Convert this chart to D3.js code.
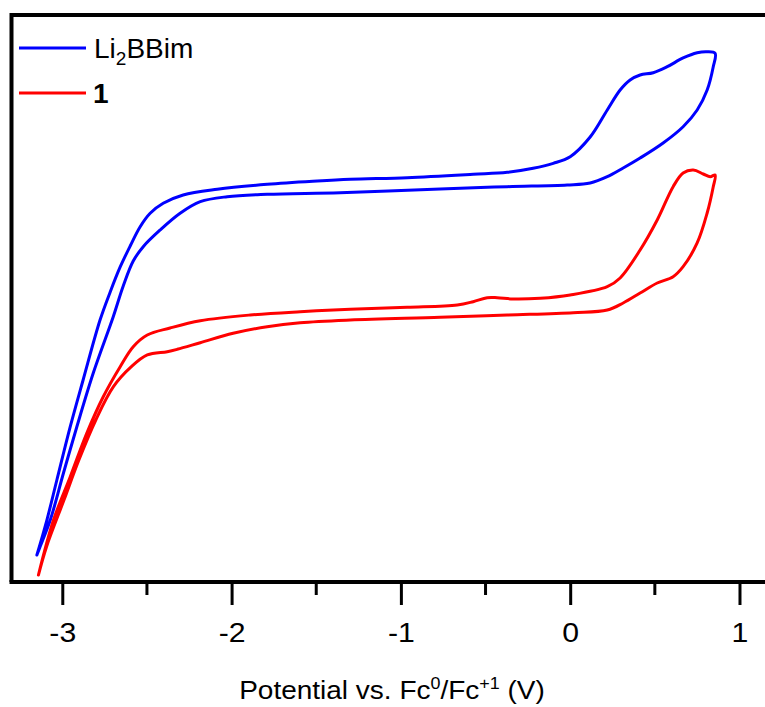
<!DOCTYPE html>
<html>
<head>
<meta charset="utf-8">
<script src="https://cdn.jsdelivr.net/npm/d3@7"></script>
<style>
  html, body { margin: 0; padding: 0; background: #fff; }
  svg { display: block; }
  text { font-family: Arial, "Liberation Sans", Helvetica, sans-serif; fill: #000; }
</style>
</head>
<body>
<svg id="chart" width="765" height="707"></svg>
<script>
// Cyclic voltammograms: potential (V vs. Fc0/Fc+1) and current (arbitrary units)
const seriesNames = ["Li2BBim", "1"];
const seriesColors = ["#0000ff", "#ff0000"];

// Li2BBim: anodic sweep from the cathodic limit, then the return sweep
const blueV = [-3.150, -3.091, -3.032, -2.953, -2.877, -2.777, -2.717, -2.658, -2.599, -2.540,
  -2.481, -2.404, -2.286, -2.085, -1.790, -1.494, -1.299, -0.963, -0.573, -0.372,
  -0.219, -0.100, 0.000, 0.118, 0.219, 0.295, 0.354, 0.413, 0.490, 0.573,
  0.667, 0.750, 0.809, 0.856,
  0.845, 0.809, 0.750, 0.667, 0.549, 0.413, 0.313, 0.219, 0.118, -0.018,
  -0.372, -0.768, -1.359, -1.790, -2.026, -2.185, -2.304, -2.422, -2.522, -2.581,
  -2.640, -2.699, -2.817, -2.914, -2.993, -3.071, -3.131, -3.150];
const blueI = [4.76, 10.93, 17.99, 27.39, 35.63, 46.20, 51.15, 55.56, 59.26, 62.66,
  65.03, 66.79, 68.25, 69.26, 70.14, 70.72, 71.02, 71.31, 71.90, 72.25,
  72.96, 73.84, 75.01, 78.48, 83.25, 86.77, 88.54, 89.42, 89.82, 90.88,
  92.42, 93.35, 93.53, 93.25,
  90.88, 86.77, 83.25, 80.30, 77.43, 74.78, 73.02, 71.48, 70.37, 70.02,
  69.72, 69.31, 68.66, 68.38, 67.95, 67.07, 65.03, 62.08, 59.14, 56.60,
  52.20, 46.79, 36.86, 27.39, 19.22, 10.93, 6.23, 4.76];

// Compound 1
const redV = [-3.141, -3.052, -2.953, -2.855, -2.758, -2.658, -2.581, -2.498, -2.363, -2.185,
  -1.890, -1.595, -1.299, -0.963, -0.667, -0.573, -0.490, -0.431, -0.337, -0.177,
  0.000, 0.219, 0.295, 0.413, 0.514, 0.608, 0.667, 0.727, 0.786, 0.827, 0.856,
  0.845, 0.809, 0.750, 0.667, 0.608, 0.514, 0.413, 0.313, 0.219, 0.018,
  -0.372, -0.768, -1.299, -1.595, -1.790, -1.991, -2.185, -2.321, -2.380, -2.498,
  -2.592, -2.698, -2.802, -2.902, -2.990, -3.093, -3.141];
const redI = [1.23, 10.93, 18.57, 26.28, 32.68, 37.97, 41.50, 43.56, 44.80, 46.08,
  47.09, 47.67, 48.10, 48.45, 48.85, 49.44, 50.14, 50.14, 49.91, 50.04,
  50.62, 52.08, 53.62, 58.55, 63.84, 69.72, 72.13, 72.66, 71.96, 71.48, 71.78,
  69.72, 65.08, 59.79, 55.61, 53.84, 52.73, 50.97, 49.21, 47.97, 47.50,
  47.09, 46.68, 46.21, 45.73, 45.03, 43.86, 42.20, 41.04, 40.62, 40.04,
  37.97, 34.44, 28.57, 21.52, 14.46, 6.23, 1.23];

const majorTicks = [-3, -2, -1, 0, 1];
const minorTicks = [-2.5, -1.5, -0.5, 0.5];

const svg = d3.select("#chart");
const plotLeft = 11.5, plotTop = 15, plotBottom = 582;
const x = d3.scaleLinear().domain([-3.3, 1.2]).range([plotLeft, plotLeft + 4.5 * 169.3]);
const y = d3.scaleLinear().domain([0, 100]).range([plotBottom, plotTop]);

// Curves
const line = d3.line()
  .x(d => x(d[0]))
  .y(d => y(d[1]))
  .curve(d3.curveCatmullRom.alpha(0.5));

const curves = [
  d3.zip(blueV, blueI),
  d3.zip(redV, redI)
];
svg.append("g").selectAll("path").data(curves).join("path")
  .attr("d", line)
  .attr("fill", "none")
  .attr("stroke", (d, i) => seriesColors[i])
  .attr("stroke-width", 3)
  .attr("stroke-linejoin", "round")
  .attr("stroke-linecap", "round");

// Frame: left and top edges
svg.append("path")
  .attr("d", `M${plotLeft},${plotBottom}V${plotTop}H${x.range()[1]}`)
  .attr("fill", "none").attr("stroke", "#000").attr("stroke-width", 4);

// Bottom axis with major and minor ticks
const axisG = svg.append("g").attr("transform", `translate(0,${plotBottom})`);
axisG.append("line")
  .attr("x1", plotLeft - 2).attr("x2", x.range()[1])
  .attr("stroke", "#000").attr("stroke-width", 4);
axisG.call(d3.axisBottom(x).tickValues(majorTicks).tickSize(23).tickSizeOuter(0)
    .tickFormat(d => String(d)))
  .call(g => g.select(".domain").remove())
  .call(g => g.selectAll(".tick line").attr("stroke", "#000").attr("stroke-width", 3))
  .call(g => g.selectAll(".tick text").attr("y", 0).attr("dy", null)
    .attr("transform", "translate(0,60) scale(1.12,1)")
    .style("font-size", "27px").style("font-family", "Arial, 'Liberation Sans', sans-serif"));
axisG.selectAll(".minor").data(minorTicks).join("line")
  .attr("class", "minor")
  .attr("x1", d => x(d)).attr("x2", d => x(d))
  .attr("y1", 0).attr("y2", 13)
  .attr("stroke", "#000").attr("stroke-width", 3);

// Axis title with superscript charges
const title = svg.append("text")
  .attr("transform", "translate(392,699) scale(1.12,1)")
  .attr("text-anchor", "middle")
  .style("font-size", "25px");
title.append("tspan").text("Potential vs. Fc");
title.append("tspan").attr("dy", -10).style("font-size", "16px").text("0");
title.append("tspan").attr("dy", 10).text("/Fc");
title.append("tspan").attr("dy", -10).style("font-size", "16px").text("+1");
title.append("tspan").attr("dy", 10).text(" (V)");

// Legend
const legend = svg.append("g");
const legendY = [48, 93];
legend.selectAll("line").data(seriesNames).join("line")
  .attr("x1", 19).attr("x2", 86)
  .attr("y1", (d, i) => legendY[i]).attr("y2", (d, i) => legendY[i])
  .attr("stroke", (d, i) => seriesColors[i]).attr("stroke-width", 3);
const t1 = legend.append("text").attr("x", 94).attr("y", 58).style("font-size", "28px");
t1.append("tspan").text("Li");
t1.append("tspan").attr("dy", 7).style("font-size", "19px").text("2");
t1.append("tspan").attr("dy", -7).text("BBim");
legend.append("text").attr("x", 93).attr("y", 103)
  .style("font-size", "28px").style("font-weight", "bold").text("1");
</script>
</body>
</html>
